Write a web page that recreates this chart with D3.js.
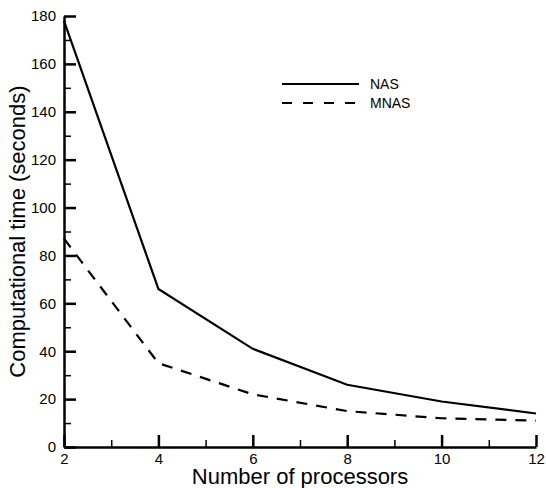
<!DOCTYPE html>
<html>
<head>
<meta charset="utf-8">
<script src="https://cdn.jsdelivr.net/npm/d3@7"></script>
<style>
    body { margin: 0; background: #fff; }
    svg { display: block; font-family: "Liberation Sans", Arial, sans-serif; }
</style>
</head>
<body>
<div class="chart"></div>
<script>
const processors = [2, 4, 6, 8, 10, 12]
const nasTime = [178, 66, 41, 26, 19, 14]
const mnasTime = [87, 35, 22, 15, 12, 11]
const seriesNames = ['NAS', 'MNAS']
const xTicks = [2, 4, 6, 8, 10, 12]
const yTicks = [0, 20, 40, 60, 80, 100, 120, 140, 160, 180]

const width = 546
const height = 488
const margin = { top: 16, right: 10, bottom: 41, left: 64 }

const svg = d3.select('.chart').append('svg')
    .attr('width', width)
    .attr('height', height)

const x = d3.scaleLinear()
    .domain([2, 12])
    .range([margin.left, width - margin.right])
const y = d3.scaleLinear()
    .domain([0, 180])
    .range([height - margin.bottom, margin.top])

// minor ticks first, then axes with inward major ticks
const minorX = d3.range(3, 12, 2)
const minorY = d3.range(10, 180, 20)

svg.append('g')
    .attr('transform', `translate(0,${y(0)})`)
    .call(d3.axisTop(x).tickValues(minorX).tickSize(7).tickFormat(''))
    .call(g => g.select('.domain').remove())
    .selectAll('line').attr('stroke-width', 1.5)

svg.append('g')
    .attr('transform', `translate(${x(2)},0)`)
    .call(d3.axisRight(y).tickValues(minorY).tickSize(7).tickFormat(''))
    .call(g => g.select('.domain').remove())
    .selectAll('line').attr('stroke-width', 1.5)

const xAxis = svg.append('g')
    .attr('transform', `translate(0,${y(0)})`)
    .call(d3.axisTop(x).tickValues(xTicks).tickSize(12).tickSizeOuter(0).tickFormat(d3.format('d')))
xAxis.select('.domain').attr('stroke-width', 2.5)
xAxis.selectAll('line').attr('stroke-width', 2.5)
xAxis.selectAll('text')
    .attr('y', 17)
    .attr('font-size', 15)
    .attr('fill', '#000')

const yAxis = svg.append('g')
    .attr('transform', `translate(${x(2)},0)`)
    .call(d3.axisRight(y).tickValues(yTicks).tickSize(12).tickSizeOuter(0))
yAxis.select('.domain').attr('stroke-width', 2.5)
yAxis.selectAll('line').attr('stroke-width', 2.5)
yAxis.selectAll('text')
    .attr('x', -8)
    .attr('text-anchor', 'end')
    .attr('font-size', 15)
    .attr('fill', '#000')

svg.append('text')
    .attr('x', (x(2) + x(12)) / 2)
    .attr('y', 484)
    .attr('text-anchor', 'middle')
    .attr('font-size', 22)
    .text('Number of processors')

svg.append('text')
    .attr('transform', `translate(25,${(y(0) + y(180)) / 2}) rotate(-90)`)
    .attr('text-anchor', 'middle')
    .attr('font-size', 22)
    .text('Computational time (seconds)')

const line = d3.line()
    .x(d => x(d[0]))
    .y(d => y(d[1]))

const series = [
    { name: seriesNames[0], values: d3.zip(processors, nasTime), dash: null },
    { name: seriesNames[1], values: d3.zip(processors, mnasTime), dash: '11,9' }
]

svg.selectAll('.series')
    .data(series)
    .enter()
    .append('path')
    .attr('class', 'series')
    .attr('d', d => line(d.values))
    .attr('fill', 'none')
    .attr('stroke', '#000')
    .attr('stroke-width', 2.2)
    .attr('stroke-dasharray', d => d.dash)

const legend = svg.append('g')
    .selectAll('g')
    .data(series)
    .enter()
    .append('g')
    .attr('transform', (d, i) => `translate(282,${84 + i * 19})`)

legend.append('line')
    .attr('x1', 0)
    .attr('x2', 77)
    .attr('stroke', '#000')
    .attr('stroke-width', 2.2)
    .attr('stroke-dasharray', d => d.dash ? '10,11' : null)

legend.append('text')
    .attr('x', 88)
    .attr('dy', '0.35em')
    .attr('font-size', 14)
    .text(d => d.name)
</script>
</body>
</html>
